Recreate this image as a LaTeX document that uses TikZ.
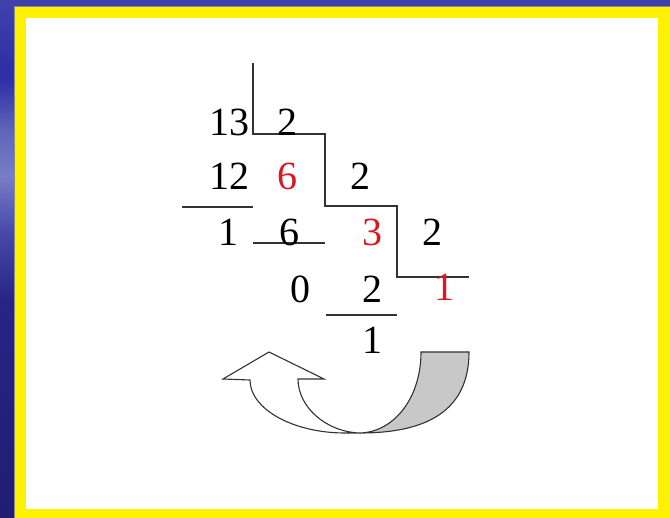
\documentclass[tikz,border=0pt]{standalone}
\usepackage{fontspec}
\setmainfont{Liberation Serif}
\definecolor{quotred}{RGB}{215,25,35}
\definecolor{ribbon}{RGB}{200,200,200}
\definecolor{inkline}{gray}{0.2}
\definecolor{bgA}{RGB}{33,29,115}
\definecolor{bgB}{RGB}{38,36,135}
\definecolor{bgC}{RGB}{70,72,170}
\definecolor{bgD}{RGB}{120,125,200}
\definecolor{bgE}{RGB}{95,100,185}
\definecolor{bgF}{RGB}{45,45,165}
\definecolor{bgG}{RGB}{65,65,172}
\pgfdeclareverticalshading{slidebg}{100bp}{%
  color(0bp)=(bgA); color(25bp)=(bgA); color(46bp)=(bgB); color(52.5bp)=(bgC);
  color(58bp)=(bgD); color(62.5bp)=(bgE); color(67.5bp)=(bgF);
  color(75bp)=(bgG); color(100bp)=(bgG)}

\begin{document}
\begin{tikzpicture}[x=1pt, y=-1pt,
    digit/.style={font=\fontsize{40}{40}\selectfont, inner sep=0pt},
    quot/.style={digit, text=quotred},
    rule/.style={line width=1.3pt, draw=inkline}]
  \useasboundingbox (0,0) rectangle (670,518);
  % slide frame
  \shade[shading=slidebg] (0,0) rectangle (670,518);
  \fill[yellow] (14,6) rectangle (670,518);
  \draw[black!45, line width=0.6pt] (14,518) -- (14,6) -- (670,6);
  \fill[white] (26,18) rectangle (658,509);

  % divisor steps
  \draw[rule] (253,63) -- (253,134) -- (325,134) -- (325,206)
    -- (397,206) -- (397,277) -- (469,277);
  % subtraction bars
  \draw[rule] (182,207) -- (253,207);
  \draw[rule] (253,243) -- (325,243);
  \draw[rule] (326,315) -- (397,315);

  \node[digit] (n13) at (229,122) {13};
  \node[digit] (d1)  at (287,122) {2};
  \node[digit] (p12) at (229,176) {12};
  \node[quot]  (q6)  at (287,176) {6};
  \node[digit] (d2)  at (360,176) {2};
  \node[digit] (r1)  at (228,232) {1};
  \node[digit] (p6)  at (289,232) {6};
  \node[quot]  (q3)  at (372,232) {3};
  \node[digit] (d3)  at (432,232) {2};
  \node[digit] (r0)  at (300,289) {0};
  \node[digit] (p2)  at (372,289) {2};
  \node[quot]  (q1)  at (444,287) {1};
  \node[digit] (r2)  at (372,340) {1};

  % curved arrow: back of the ribbon
  \filldraw[fill=ribbon, draw=inkline, line width=1.1pt]
    (421,352) -- (469,352) .. controls (469,410) and (428,433) .. (360,433)
    .. controls (394,432) and (421,398) .. (421,352) -- cycle;
  % curved arrow: front with head
  \filldraw[fill=white, draw=inkline, line width=1.1pt]
    (360,433) -- (345,433) .. controls (293,433) and (250,409) .. (250,380)
    -- (223,379) -- (269,352) -- (324,379) -- (298,379)
    .. controls (298,407) and (326,432) .. (360,433) -- cycle;
\end{tikzpicture}
\end{document}
